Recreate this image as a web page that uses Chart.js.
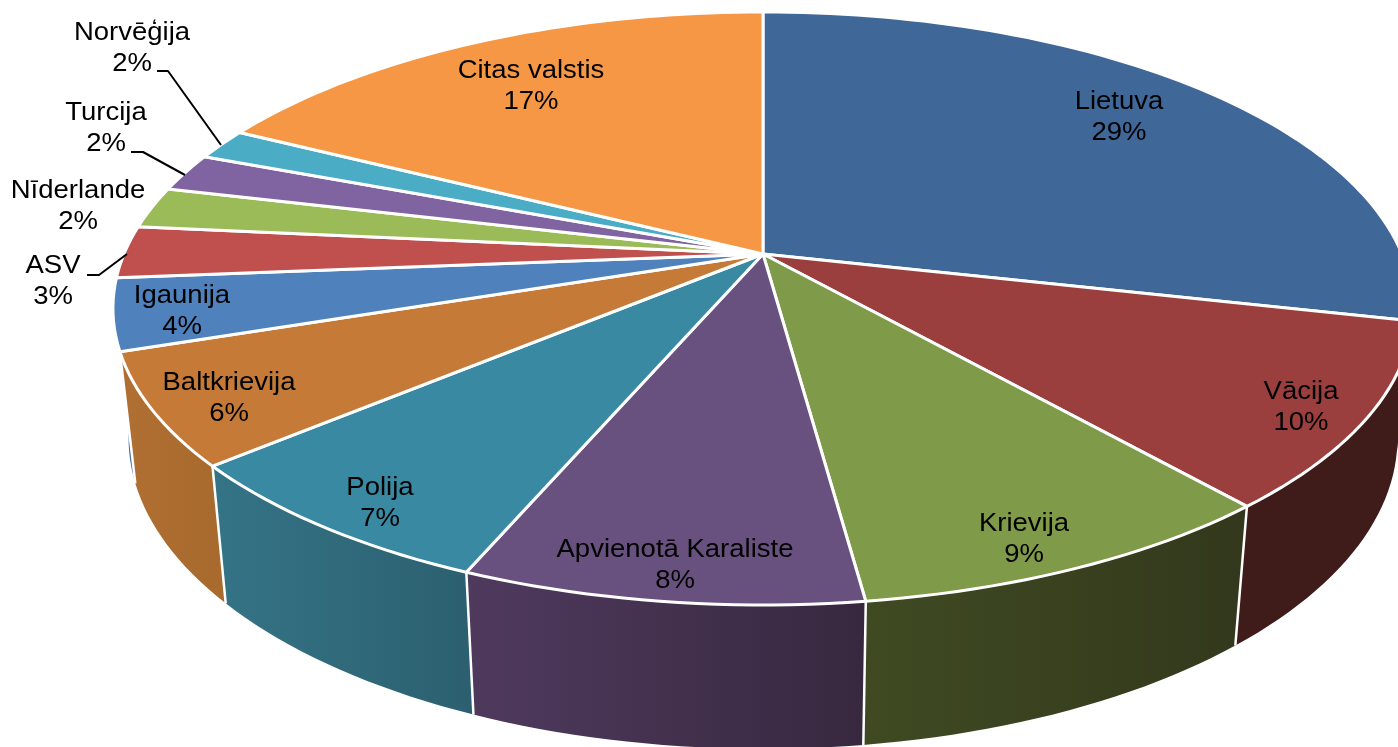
<!DOCTYPE html>
<html lang="lv">
<head>
<meta charset="utf-8">
<title>Valstis</title>
<script src="https://cdn.jsdelivr.net/npm/chart.js@4"></script>
<style>
  html, body { margin: 0; background: #fff; overflow: hidden; }
  canvas { display: block; }
</style>
</head>
<body>
<canvas id="pie" width="1398" height="747"></canvas>
<script>
const countries = ['Lietuva', 'Vācija', 'Krievija', 'Apvienotā Karaliste', 'Polija', 'Baltkrievija', 'Igaunija', 'ASV', 'Nīderlande', 'Turcija', 'Norvēģija', 'Citas valstis'];
const shares = [28.6, 10.1, 9.2, 8.4, 7.4, 6.1, 3.9, 2.85, 2.25, 2.1, 1.7, 17.4];
const shareLabels = ['29%', '10%', '9%', '8%', '7%', '6%', '4%', '3%', '2%', '2%', '2%', '17%'];

const topColors = ['#3f6797', '#9a3f3e', '#7f9a48', '#69517f', '#3a89a2', '#c67a37', '#4f81bd', '#c0504d', '#9bbb59', '#8064a2', '#4bacc6', '#f59745'];
const wallLeft = ['#2c4a6e', '#3f1b1a', '#3f4a22', '#4f3a5e', '#347486', '#b16f33', '#3f6ea8', '#8a3a38', '#70883f', '#5d4876', '#367d90', '#b56d32'];
const wallRight = ['#2c4a6e', '#3f1b1a', '#33381c', '#37283f', '#2c6070', '#a86a2d', '#3f6ea8', '#8a3a38', '#70883f', '#5d4876', '#367d90', '#b56d32'];

// label centres, same order as countries
const labelX = [1119, 1301, 1024, 675, 380, 229, 182, 53, 78, 106, 132, 531];
const labelY = [102.5, 392.5, 524.5, 550.5, 488.5, 383.5, 296.5, 266.5, 191.5, 113.5, 33.5, 71.5];
const leaders = [
  [[157, 71], [168, 71], [221, 145]],
  [[131, 152], [143, 152], [185, 175]],
  [[87, 275], [99, 275], [127, 254]]
];

// the picture is a tilted disc: the hub sits above the middle of the ellipse
const hubX = 763, hubY = 254, spreadX = 639, spreadY = 286.5, tilt = 0.1837;
const floorY = 381, floorScaleX = 0.976, floorScaleY = 1.048;

function project(angle) {
  const u = Math.cos(angle), v = Math.sin(angle);
  const d = 1 - tilt * v;
  return { x: hubX + spreadX * u / d, y: hubY + spreadY * v / d };
}
function toFloor(p) {
  return { x: hubX + (p.x - hubX) * floorScaleX, y: floorY + (p.y - hubY) * floorScaleY };
}
function rimPoints(arc) {
  const steps = Math.max(6, Math.ceil((arc.endAngle - arc.startAngle) * 40));
  const pts = [];
  for (let i = 0; i <= steps; i++) pts.push(project(arc.startAngle + (arc.endAngle - arc.startAngle) * i / steps));
  return pts;
}
function wideText(ctx, text, x, y) {
  // the source text is stretched a little sideways
  ctx.save();
  ctx.translate(x, y);
  ctx.scale(1.1, 1);
  ctx.fillText(text, 0, 0);
  ctx.restore();
}

const tiltedPie = {
  id: 'tiltedPie',
  beforeDatasetsDraw(chart) {
    const ctx = chart.ctx;
    const arcs = chart.getDatasetMeta(0).data;
    ctx.save();
    ctx.lineJoin = 'round';

    // walls, back to front
    const order = arcs.map((arc, i) => i).sort((a, b) =>
      Math.sin((arcs[a].startAngle + arcs[a].endAngle) / 2) - Math.sin((arcs[b].startAngle + arcs[b].endAngle) / 2));
    order.forEach((i) => {
      const rim = rimPoints(arcs[i]);
      const floor = rim.map(toFloor);
      const a = rim[0], b = rim[rim.length - 1];
      const grad = ctx.createLinearGradient(b.x, 0, a.x, 0);
      grad.addColorStop(0, wallLeft[i]);
      grad.addColorStop(1, wallRight[i]);
      ctx.fillStyle = grad;
      ctx.beginPath();
      rim.forEach((p, k) => (k ? ctx.lineTo(p.x, p.y) : ctx.moveTo(p.x, p.y)));
      floor.reverse().forEach((p) => ctx.lineTo(p.x, p.y));
      ctx.closePath();
      ctx.fill();
    });
    ctx.strokeStyle = '#fff';
    ctx.lineWidth = 2.5;
    arcs.forEach((arc) => {
      if (Math.sin(arc.startAngle) < 0.3) return;
      const p = project(arc.startAngle), f = toFloor(p);
      ctx.beginPath();
      ctx.moveTo(p.x, p.y);
      ctx.lineTo(f.x, f.y);
      ctx.stroke();
    });

    // top face
    ctx.lineWidth = 3;
    arcs.forEach((arc, i) => {
      ctx.fillStyle = topColors[i];
      ctx.beginPath();
      ctx.moveTo(hubX, hubY);
      rimPoints(arc).forEach((p) => ctx.lineTo(p.x, p.y));
      ctx.closePath();
      ctx.fill();
      ctx.stroke();
    });

    // leader lines
    ctx.strokeStyle = '#000';
    ctx.lineWidth = 2;
    leaders.forEach((line) => {
      ctx.beginPath();
      line.forEach((p, k) => (k ? ctx.lineTo(p[0], p[1]) : ctx.moveTo(p[0], p[1])));
      ctx.stroke();
    });

    // labels
    ctx.fillStyle = '#000';
    ctx.font = '25px "Liberation Sans", Arial, sans-serif';
    ctx.textAlign = 'center';
    ctx.textBaseline = 'middle';
    countries.forEach((name, i) => {
      wideText(ctx, name, labelX[i], labelY[i]);
      wideText(ctx, shareLabels[i], labelX[i], labelY[i] + 31);
    });
    ctx.restore();
    return false;
  }
};

new Chart(document.getElementById('pie'), {
  type: 'pie',
  data: { labels: countries, datasets: [{ data: shares, backgroundColor: topColors, borderColor: '#fff' }] },
  options: {
    responsive: false,
    animation: false,
    plugins: { legend: { display: false }, tooltip: { enabled: false } }
  },
  plugins: [tiltedPie]
});
</script>
</body>
</html>
